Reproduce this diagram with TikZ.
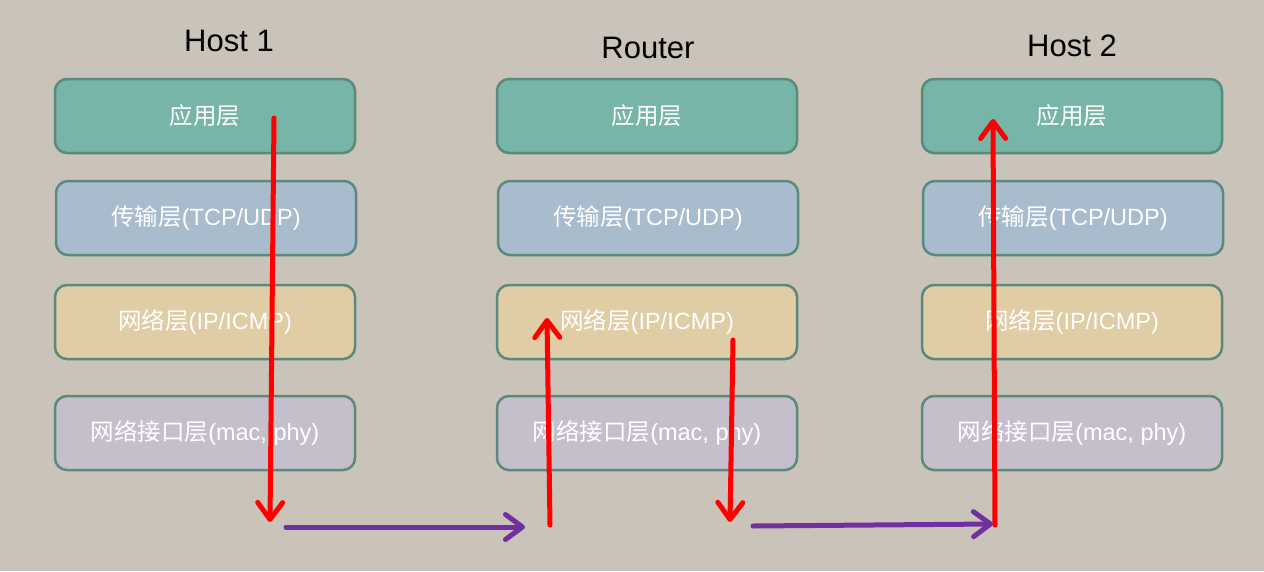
\documentclass[tikz,border=0pt]{standalone}
\usepackage{fontspec}
\setmainfont{Liberation Sans}
\newfontfamily\cjk{Noto Sans CJK SC}
\usetikzlibrary{arrows.meta,positioning}

\definecolor{bgcol}{HTML}{CAC3B9}
\definecolor{boxline}{HTML}{5B8A7C}
\definecolor{appcol}{HTML}{76B5A8}
\definecolor{tcpcol}{HTML}{A9BCCD}
\definecolor{ipcol}{HTML}{E0CCA5}
\definecolor{linkcol}{HTML}{C5BFCC}
\definecolor{flowred}{HTML}{FF0000}
\definecolor{flowpurple}{HTML}{7030A0}

\tikzset{
  layer/.style={draw=boxline, line width=2.5pt, rounded corners=12pt,
    minimum width=300pt, minimum height=74pt, text=white,
    font=\fontsize{23.5}{27}\selectfont},
  title/.style={font=\fontsize{31}{35}\selectfont, text=black},
  upflow/.style={draw=flowred, line width=5pt, line cap=round,
    -{Straight Barb[length=17pt,width=25pt,round]}},
  wireflow/.style={draw=flowpurple, line width=5pt, line cap=round,
    -{Straight Barb[length=17pt,width=25pt,round]}}
}

\begin{document}
\begin{tikzpicture}[x=1pt, y=-1pt]
        \fill[bgcol] (0,0) rectangle (1264,571);
        \useasboundingbox (0,0) rectangle (1264,571);

        % titles
        \node[title] (t1) at (229,41) {Host 1};
        \node[title] (t2) at (648,48) {Router};
        \node[title] (t3) at (1072,46) {Host 2};

        % protocol stacks
        \foreach \col/\cx in {h1/205, rt/647, h2/1072} {
            \node[layer, fill=appcol]  (\col app)  at (\cx,116) {{\cjk 应用层}};
            \node[layer, fill=tcpcol]  (\col tcp)  at (\cx+1,218) {{\cjk 传输层}(TCP/UDP)};
            \node[layer, fill=ipcol]   (\col ip)   at (\cx,322) {{\cjk 网络层}(IP/ICMP)};
            \node[layer, fill=linkcol] (\col link) at (\cx,433) {{\cjk 网络接口层}(mac, phy)};
        }

        % path of the data
        \coordinate (h1top) at (274,118);
        \coordinate (h1bot) at (270,522);
        \coordinate (w1a) at (286,527);
        \coordinate (w1b) at (525,527);
        \coordinate (rtin) at (550,525);
        \coordinate (rtup) at (547,318);
        \coordinate (rtdn) at (733,340);
        \coordinate (rtout) at (730,522);
        \coordinate (w2a) at (753,526);
        \coordinate (w2b) at (993,524);
        \coordinate (h2bot) at (995,525);
        \coordinate (h2top) at (993,119);

        \draw[upflow] (h1top) -- (h1bot);
        \draw[wireflow] (w1a) -- (w1b);
        \draw[upflow] (rtin) -- (rtup);
        \draw[upflow] (rtdn) -- (rtout);
        \draw[wireflow] (w2a) -- (w2b);
        \draw[upflow] (h2bot) -- (h2top);
    \end{tikzpicture}
\end{document}
